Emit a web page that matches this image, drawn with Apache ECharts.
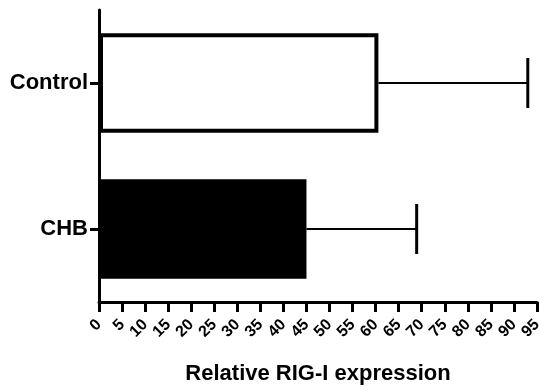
<!DOCTYPE html>
<html>
    <head>
        <meta charset="utf-8">
        <title>Relative RIG-I expression</title>
        <style>
            html, body { margin: 0; padding: 0; background: #fff; }
            #chart1 { width: 539px; height: 387px; }
        </style>
    </head>
    <body>
        <div id="chart1"></div>
    </body>
    <script src="https://cdn.jsdelivr.net/npm/echarts@6/dist/echarts.min.js"></script>
    <script type="text/javascript">
        // data
        const categories = ['CHB', 'Control'];
        const means = [45.0, 60.6];
        const upper = [68.9, 93.0];
        const tickLabels = ['0','5','10','15','20','25','30','35','40','45','50','55','60','65','70','75','80','85','90','95'];

        const font = '"Liberation Sans", Arial, sans-serif';
        let myChart1 = echarts.init(document.getElementById('chart1'));

        myChart1.setOption({
            animation: false,
            grid: { left: 99, right: 2, top: 10, bottom: 85, containLabel: false, outerBoundsMode: 'none' },
            xAxis: {
                type: 'value',
                min: 0, max: 95, interval: 5,
                name: 'Relative RIG-I expression',
                nameLocation: 'middle',
                nameGap: 61,
                nameMoveOverlap: false,
                nameTextStyle: { fontFamily: font, fontWeight: 'bold', fontSize: 22, color: '#000' },
                axisLine: { show: true, lineStyle: { color: '#000', width: 3 } },
                axisTick: { show: true, length: 10, lineStyle: { color: '#000', width: 3 } },
                axisLabel: {
                    rotate: 45, margin: 20,
                    hideOverlap: false,
                    fontFamily: font, fontWeight: 'bold', fontSize: 16, color: '#000',
                    formatter: (v) => tickLabels[Math.round(v / 5)]
                },
                splitLine: { show: false }
            },
            yAxis: {
                type: 'category',
                data: categories,
                axisLine: { show: true, lineStyle: { color: '#000', width: 3 } },
                axisTick: { show: true, alignWithLabel: true, length: 9, lineStyle: { color: '#000', width: 3 } },
                axisLabel: { margin: 11, fontFamily: font, fontWeight: 'bold', fontSize: 22, color: '#000' },
                splitLine: { show: false }
            },
            series: [
                {
                    type: 'bar',
                    barCategoryGap: '32%',
                    data: means.map((v, i) => ({
                        value: v,
                        itemStyle: i === 0
                            ? { color: '#000', borderColor: '#000', borderWidth: 0 }
                            : { color: '#fff', borderColor: '#000', borderWidth: 4 }
                    })),
                    z: 2
                },
                {
                    type: 'custom',
                    data: means.map((v, i) => [v, upper[i], i]),
                    encode: { x: [0, 1], y: 2 },
                    renderItem: function (params, api) {
                        const start = api.coord([api.value(0), api.value(2)]);
                        const end = api.coord([api.value(1), api.value(2)]);
                        const half = 25;
                        return {
                            type: 'group',
                            children: [
                                {
                                    type: 'line',
                                    shape: { x1: start[0], y1: start[1], x2: end[0], y2: end[1] },
                                    style: { stroke: '#000', lineWidth: 2 }
                                },
                                {
                                    type: 'line',
                                    shape: { x1: end[0], y1: end[1] - half, x2: end[0], y2: end[1] + half },
                                    style: { stroke: '#000', lineWidth: 3 }
                                }
                            ]
                        };
                    },
                    z: 1
                }
            ]
        });
    </script>
</html>
